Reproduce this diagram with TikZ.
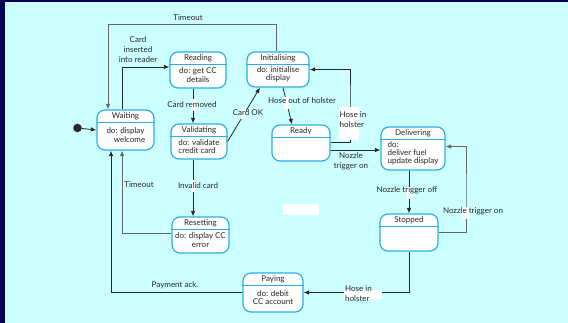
\documentclass[tikz,border=0pt]{standalone}
\usepackage{fontspec}
\setmainfont{Lato}
\usepackage{tikz}
\usetikzlibrary{calc,arrows.meta,positioning}

\definecolor{frame}{HTML}{000055}
\definecolor{panel}{HTML}{CCFFFF}
\definecolor{stateblue}{HTML}{2AAEEA}
\definecolor{ink}{HTML}{262626}

% state with a title band and a body
\newcommand{\umlstate}[7][center]{%
  \node[statebox,minimum width=#4,minimum height=#5] (#2) at (#3) {};
  \draw[stateblue,line width=0.9pt] ([yshift=-13pt]#2.north west) -- ([yshift=-13pt]#2.north east);
  \node[titletext] (#2-t) at ([yshift=-6.5pt]#2.north) {#6};
  \node[bodytext,align=#1] (#2-b) at ($([yshift=-13pt]#2.north)!0.5!(#2.south)+(0,-1.5)$) {#7};
}

\begin{document}
\begin{tikzpicture}[x=1pt,y=-1pt,
    statebox/.style={draw=stateblue,line width=1.2pt,fill=white,rounded corners=8pt,inner sep=0pt},
    titletext/.style={text=ink,font=\fontsize{8}{9}\selectfont,inner sep=0pt},
    bodytext/.style={text=ink,font=\fontsize{8}{8.2}\selectfont,inner sep=0pt},
    lbl/.style={text=ink,font=\fontsize{8}{10}\selectfont,inner sep=0pt},
    conn/.style={draw=ink,line width=0.8pt,-{Latex[length=5.5pt,width=4.5pt]}},
    greyconn/.style={conn,draw=black!60},
    patch/.style={fill=white,minimum width=5pt,minimum height=12pt,inner sep=0pt},
    whitebox/.style={fill=white,inner sep=0pt}]

  \useasboundingbox (0,0) rectangle (568,323);
  \fill[frame] (0,0) rectangle (568,323);
  \fill[panel] (5,2) rectangle (568,323);

  % states
  \umlstate{waiting}{125.5,130}{57pt}{40pt}{Waiting}{do: display\\\hspace*{8pt}welcome}
  \umlstate{reading}{198,70}{56pt}{36pt}{Reading}{do: get CC\\details}
  \umlstate{init}{278,69.5}{62pt}{35pt}{Initialising}{do: initialise\\display}
  \umlstate[left]{valid}{199,141.5}{56pt}{35pt}{Validating}{do: validate\\credit card}
  \umlstate{ready}{301,143}{58pt}{36pt}{Ready}{}
  \umlstate[left]{deliver}{413,148.5}{64pt}{43pt}{Delivering}{do:\\deliver fuel\\update display}
  \umlstate{stopped}{409,232.5}{58pt}{37pt}{Stopped}{}
  \umlstate{reset}{200.5,235}{57pt}{36pt}{Resetting}{do: display CC\\error}
  \umlstate{paying}{273,292.5}{60pt}{39pt}{Paying}{do: debit\\CC account}

  \node[circle,fill=ink,minimum size=8.5pt,inner sep=0pt] (start) at (77.5,128) {};

  % routing points
  \coordinate (topleft) at (108,24);
  \coordinate (cardin) at (122,67);
  \coordinate (vcol) at (193,105);
  \coordinate (holster) at (350,100);
  \coordinate (trigger) at (466,200);
  \coordinate (paycol) at (111,200);
  \coordinate (rescol) at (122,200);

  % transitions
  \draw[conn] (start) -- (waiting.west);
  \draw[conn] (cardin |- waiting.north) |- ([yshift=3pt]reading.west);
  \draw[greyconn] ([xshift=-2pt]init.north) |- (topleft) -- (topleft |- waiting.north);
  \draw[conn] (vcol |- reading.south) -- (vcol |- valid.north);
  \draw[conn] (valid.east) -- ([xshift=-18pt]init.south);
  \draw[conn] ([xshift=5pt]init.south) -- ([xshift=-9pt]ready.north);
  \draw[conn] ([yshift=1pt]ready.east) -| (holster) |- (init.east);
  \draw[conn] ([yshift=-7pt]ready.east) -- ([yshift=-7pt]ready.east -| deliver.west);
  \draw[conn] (stopped.north |- deliver.south) -- (stopped.north);
  \draw[greyconn] (stopped.east) -| (trigger) |- ([yshift=2pt]deliver.east);
  \draw[conn] (stopped.south) |- (paying.east);
  \draw[conn] (paying.west) -| (paycol |- waiting.south);
  \draw[greyconn] ([yshift=2pt]reset.west) -| (rescol |- waiting.south);
  \draw[conn] (vcol |- valid.south) -- (vcol |- reset.north);

  % white patches under the labels
  \node[patch] (p1) at (193,105) {};
  \node[patch] (p2) at (243.5,113) {};
  \node[patch] (p3) at (286.5,103) {};
  \node[patch] (p4) at (193.5,186) {};
  \node[patch] (p5) at (409.5,193) {};
  \node[patch,minimum width=8pt] (p6) at (466,213) {};
  \node[whitebox,minimum width=20pt,minimum height=33pt] (b1) at (349,123.5) {};
  \node[whitebox,minimum width=38pt,minimum height=9pt] (b2) at (363,294.5) {};
  \node[whitebox,minimum width=36pt,minimum height=11pt] (b3) at (301,209.5) {};

  % labels
  \node[lbl] (l1) at (188,18) {Timeout};
  \node[lbl,align=center] (l2) at (138,50) {Card\\inserted\\into reader};
  \node[lbl] (l3) at (192,105) {Card removed};
  \node[lbl] (l4) at (248,113) {Card OK};
  \node[lbl] (l5) at (302,101) {Hose out of holster};
  \node[lbl,align=left,anchor=west] (l6) at (339.5,120) {Hose in\\holster};
  \node[lbl,align=center] (l7) at (351,161) {Nozzle\\trigger on};
  \node[lbl] (l8) at (407,190) {Nozzle trigger off};
  \node[lbl] (l9) at (473,211) {Nozzle trigger on};
  \node[lbl,align=left,anchor=west] (l10) at (345,294) {Hose in\\holster};
  \node[lbl] (l11) at (175,285) {Payment ack.};
  \node[lbl] (l12) at (139,185) {Timeout};
  \node[lbl] (l13) at (198,186) {Invalid card};

\end{tikzpicture}
\end{document}
